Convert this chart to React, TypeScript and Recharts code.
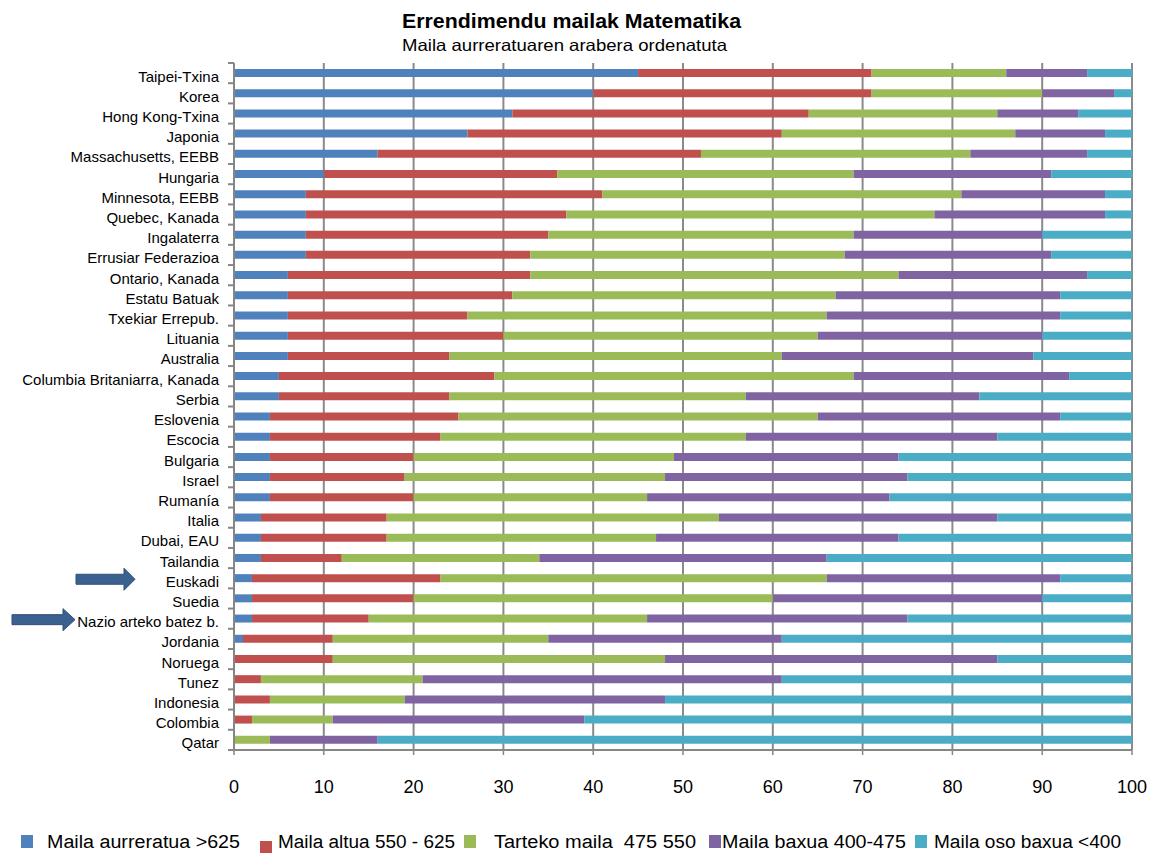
import React from "react";
import { BarChart, Bar, XAxis, YAxis, CartesianGrid } from "recharts";

const categories = [
  "Taipei-Txina",
  "Korea",
  "Hong Kong-Txina",
  "Japonia",
  "Massachusetts, EEBB",
  "Hungaria",
  "Minnesota, EEBB",
  "Quebec, Kanada",
  "Ingalaterra",
  "Errusiar Federazioa",
  "Ontario, Kanada",
  "Estatu Batuak",
  "Txekiar Errepub.",
  "Lituania",
  "Australia",
  "Columbia Britaniarra, Kanada",
  "Serbia",
  "Eslovenia",
  "Escocia",
  "Bulgaria",
  "Israel",
  "Rumanía",
  "Italia",
  "Dubai, EAU",
  "Tailandia",
  "Euskadi",
  "Suedia",
  "Nazio arteko batez b.",
  "Jordania",
  "Noruega",
  "Tunez",
  "Indonesia",
  "Colombia",
  "Qatar",
];

const aurreratua = [45, 40, 31, 26, 16, 10, 8, 8, 8, 8, 6, 6, 6, 6, 6, 5, 5, 4, 4, 4, 4, 4, 3, 3, 3, 2, 2, 2, 1, 0, 0, 0, 0, 0];
const altua = [26, 31, 33, 35, 36, 26, 33, 29, 27, 25, 27, 25, 20, 24, 18, 24, 19, 21, 19, 16, 15, 16, 14, 14, 9, 21, 18, 13, 10, 11, 3, 4, 2, 0];
const tarteko = [15, 19, 21, 26, 30, 33, 40, 41, 34, 35, 41, 36, 40, 35, 37, 40, 33, 40, 34, 29, 29, 26, 37, 30, 22, 43, 40, 31, 24, 37, 18, 15, 9, 4];
const baxua = [9, 8, 9, 10, 13, 22, 16, 19, 21, 23, 21, 25, 26, 25, 28, 24, 26, 27, 28, 25, 27, 27, 31, 27, 32, 26, 30, 29, 26, 37, 40, 29, 28, 12];
const osoBaxua = [5, 2, 6, 3, 5, 9, 3, 3, 10, 9, 5, 8, 8, 10, 11, 7, 17, 8, 15, 26, 25, 27, 15, 26, 34, 8, 10, 25, 39, 15, 39, 52, 61, 84];

const seriesKeys = ["aurreratua", "altua", "tarteko", "baxua", "osoBaxua"];
const seriesLabels = [
  "Maila aurreratua >625",
  "Maila altua 550 - 625",
  "Tarteko maila  475 550",
  "Maila baxua 400-475",
  "Maila oso baxua <400",
];
const seriesColors = ["#4F81BD", "#C0504D", "#9BBB59", "#8064A2", "#4BACC6"];
const xTicks = [0, 10, 20, 30, 40, 50, 60, 70, 80, 90, 100];
const arrowCategories = ["Euskadi", "Nazio arteko batez b."];

const titleText = "Errendimendu mailak Matematika";
const subtitleText = "Maila aurreratuaren arabera ordenatuta";

// layout / style constants
const W = 1151;
const H = 853;
const PLOT_TOP = 63;
const PLOT_BOTTOM = 750;
const PLOT_LEFT = 234;
const PLOT_RIGHT = 1132;
const CHART_H = 800;
const HALF_BAND = (PLOT_BOTTOM - PLOT_TOP) / categories.length / 2;
const AXIS_GRAY = "#868686";
const ARROW_GEOM = [
  { x0: 76, x1: 124, x2: 135 },
  { x0: 12, x1: 63, x2: 75 },
];
const LEGEND_LAYOUT = [
  { mx: 21, my: 835, tx: 47, tw: 193 },
  { mx: 260, my: 841, tx: 278, tw: 177 },
  { mx: 464, my: 835, tx: 494, tw: 202 },
  { mx: 709, my: 835, tx: 722, tw: 184 },
  { mx: 915, my: 835, tx: 934, tw: 187 },
];

const data = categories.map((name, i) => ({
  name,
  aurreratua: aurreratua[i],
  altua: altua[i],
  tarteko: tarteko[i],
  baxua: baxua[i],
  osoBaxua: osoBaxua[i],
}));

const labelFont = "'Liberation Sans', Arial, sans-serif";

function CategoryTick(props: any) {
  const { y, payload, index } = props;
  const ai = arrowCategories.indexOf(payload.value);
  let arrow = null;
  if (ai >= 0) {
    const g = ARROW_GEOM[ai];
    const cy = y + 1;
    const pts = [
      [g.x0, cy - 5],
      [g.x1, cy - 5],
      [g.x1, cy - 11],
      [g.x2, cy],
      [g.x1, cy + 11],
      [g.x1, cy + 5],
      [g.x0, cy + 5],
    ]
      .map((p) => p.join(","))
      .join(" ");
    arrow = <polygon points={pts} fill="#3B6190" stroke="#2F5079" strokeWidth={1} />;
  }
  return (
    <g>
      <line x1={PLOT_LEFT - 6} x2={PLOT_LEFT} y1={y + HALF_BAND} y2={y + HALF_BAND} stroke={AXIS_GRAY} strokeWidth={2} />
      {index === 0 && (
        <line x1={PLOT_LEFT - 6} x2={PLOT_LEFT} y1={y - HALF_BAND} y2={y - HALF_BAND} stroke={AXIS_GRAY} strokeWidth={2} />
      )}
      <text x={219} y={y + 8.5} textAnchor="end" fontFamily={labelFont} fontSize={15} fill="#000">
        {payload.value}
      </text>
      {arrow}
    </g>
  );
}

export default function App() {
  return (
    <div style={{ position: "absolute", left: 0, top: 0, width: W, height: H, background: "#fff" }}>
      <div style={{ position: "absolute", left: 0, top: 0 }}>
        <BarChart
          width={W}
          height={CHART_H}
          data={data}
          layout="vertical"
          margin={{ top: PLOT_TOP, right: W - PLOT_RIGHT, left: 0, bottom: 0 }}
          barSize={8}
        >
          <CartesianGrid horizontal={false} vertical={true} stroke="#8a8a8a" strokeWidth={2} />
          <XAxis
            type="number"
            domain={[0, 100]}
            ticks={xTicks}
            interval={0}
            height={CHART_H - PLOT_BOTTOM}
            axisLine={{ stroke: AXIS_GRAY, strokeWidth: 2 }}
            tickLine={{ stroke: AXIS_GRAY, strokeWidth: 1.5 }}
            tickSize={5}
            tickMargin={25}
            tick={{ fontSize: 18, fontFamily: labelFont, fill: "#000" }}
          />
          <YAxis
            type="category"
            dataKey="name"
            width={PLOT_LEFT}
            interval={0}
            axisLine={{ stroke: AXIS_GRAY, strokeWidth: 2 }}
            tickLine={false}
            tick={<CategoryTick />}
          />
          {seriesKeys.map((k, i) => (
            <Bar key={k} dataKey={k} name={seriesLabels[i]} stackId="a" fill={seriesColors[i]} isAnimationActive={false} />
          ))}
        </BarChart>
      </div>
      <svg
        width={W}
        height={H}
        style={{ position: "absolute", left: 0, top: 0, pointerEvents: "none" }}
      >
        <text
          x={402}
          y={28}
          fontFamily={labelFont}
          fontWeight="bold"
          fontSize={20}
          fill="#000"
          textLength={339}
          lengthAdjust="spacingAndGlyphs"
        >
          {titleText}
        </text>
        <text
          x={402}
          y={51}
          fontFamily={labelFont}
          fontSize={16.5}
          fill="#000"
          textLength={325}
          lengthAdjust="spacingAndGlyphs"
        >
          {subtitleText}
        </text>
        {seriesLabels.map((lab, i) => {
          const L = LEGEND_LAYOUT[i];
          return (
            <g key={lab}>
              <rect x={L.mx} y={L.my} width={12} height={13} fill={seriesColors[i]} />
              <text
                x={L.tx}
                y={848}
                fontFamily={labelFont}
                fontSize={18}
                fill="#000"
                textLength={L.tw}
                lengthAdjust="spacingAndGlyphs"
                style={{ whiteSpace: "pre" }}
              >
                {lab}
              </text>
            </g>
          );
        })}
      </svg>
    </div>
  );
}
